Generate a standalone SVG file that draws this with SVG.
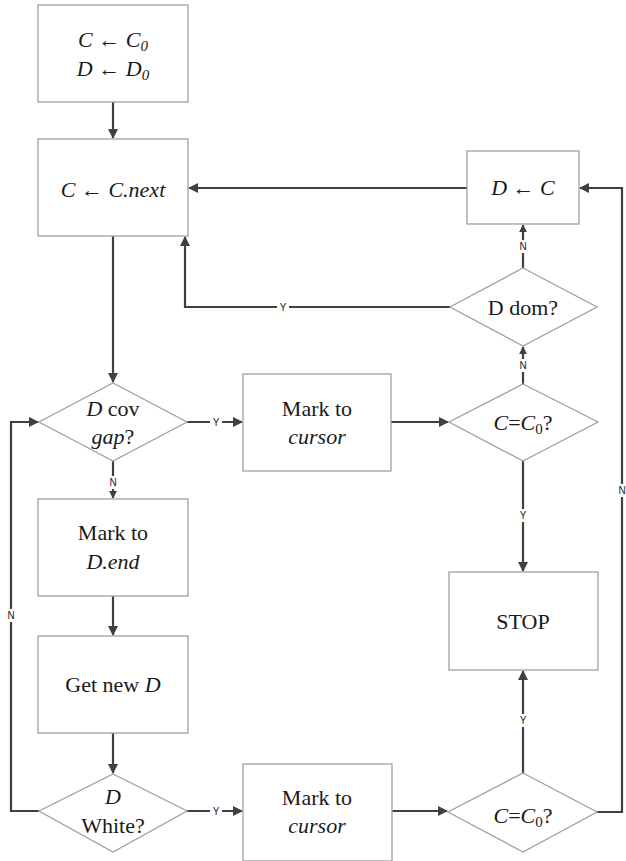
<svg xmlns="http://www.w3.org/2000/svg" width="626" height="861" viewBox="0 0 626 861">
<defs>
<marker id="ah" markerWidth="10" markerHeight="10" viewBox="0 0 10 10" refX="9" refY="5" orient="auto" markerUnits="userSpaceOnUse">
<path d="M0,0 L10,5 L0,10 z" fill="#404040"/>
</marker>
<marker id="ahs" markerWidth="8" markerHeight="8" viewBox="0 0 10 10" refX="9" refY="5" orient="auto" markerUnits="userSpaceOnUse">
<path d="M0,0 L10,5 L0,10 z" fill="#404040"/>
</marker>
<style>
.n{fill:#fff;stroke:#a0a0a0;stroke-width:1.3}
.t{font-family:'Liberation Serif','Times New Roman',Times,serif;font-size:22px;fill:#1a1a1a;text-anchor:middle}
.i{font-style:italic}
.c{fill:none;stroke:#404040;stroke-width:2.2}
.a{marker-end:url(#ah)}
.as{marker-end:url(#ahs)}
.l{font-family:'Liberation Sans',Arial,sans-serif;font-size:10px;fill:#222;text-anchor:middle}
.lb{fill:#fff}
</style>
</defs>
<rect width="626" height="861" fill="#fff"/>
<g id="connectors">
<path class="c a" d="M113,102 V138"/>
<path class="c a" d="M113,236 V382"/>
<path class="c a" d="M467,188 H189"/>
<path class="c a" d="M450,307 H185 V237"/>
<path class="c as" d="M523,268 V225"/>
<path class="c as" d="M523,384 V347"/>
<path class="c a" d="M187,422 H242"/>
<path class="c a" d="M391,422 H448"/>
<path class="c a" d="M523,461 V571"/>
<path class="c as" d="M113,461 V498"/>
<path class="c a" d="M113,596 V635"/>
<path class="c a" d="M113,733 V773"/>
<path class="c a" d="M39,811 H11 V422 H38"/>
<path class="c a" d="M187,811 H242"/>
<path class="c a" d="M392,811 H447"/>
<path class="c a" d="M523,773 V671"/>
<path class="c a" d="M597,812 H622 V188 H580"/>
<rect class="lb" x="277" y="300" width="12" height="14"/><text class="l" x="283" y="311">Y</text>
<rect class="lb" x="517" y="240" width="12" height="13"/><text class="l" x="523" y="250">N</text>
<rect class="lb" x="517" y="359" width="12" height="13"/><text class="l" x="523" y="369">N</text>
<rect class="lb" x="210" y="416" width="12" height="13"/><text class="l" x="216" y="426">Y</text>
<rect class="lb" x="517" y="509" width="12" height="13"/><text class="l" x="523" y="519">Y</text>
<rect class="lb" x="107" y="476" width="12" height="13"/><text class="l" x="113" y="486">N</text>
<rect class="lb" x="5" y="609" width="12" height="13"/><text class="l" x="11" y="619">N</text>
<rect class="lb" x="210" y="805" width="12" height="13"/><text class="l" x="216" y="815">Y</text>
<rect class="lb" x="517" y="714" width="12" height="13"/><text class="l" x="523" y="724">Y</text>
<rect class="lb" x="616" y="484" width="12" height="13"/><text class="l" x="622" y="494">N</text>
</g>
<g id="init">
<rect class="n" x="38" y="5" width="150" height="97"/>
<text class="t i" x="113" y="47">C ← C<tspan font-size="15" dy="4">0</tspan></text>
<text class="t i" x="113" y="76">D ← D<tspan font-size="15" dy="4">0</tspan></text>
</g>
<g id="cnext">
<rect class="n" x="38" y="139" width="150" height="97"/>
<text class="t i" x="113" y="197">C ← C.next</text>
</g>
<g id="dassign">
<rect class="n" x="467" y="151" width="112" height="73"/>
<text class="t i" x="523" y="195">D ← C</text>
</g>
<g id="ddom">
<path class="n" d="M523,268 L597,307 L523,346 L450,307 Z"/>
<text class="t" x="523" y="315">D dom?</text>
</g>
<g id="dcov">
<path class="n" d="M113,383 L187,422 L113,461 L39,422 Z"/>
<text class="t" x="113" y="416"><tspan class="i">D</tspan> cov</text>
<text class="t" x="113" y="444"><tspan class="i">gap</tspan>?</text>
</g>
<g id="markcursor1">
<rect class="n" x="243" y="374" width="148" height="97"/>
<text class="t" x="317" y="416">Mark to</text>
<text class="t i" x="317" y="444">cursor</text>
</g>
<g id="cc0a">
<path class="n" d="M523,384 L598,422 L523,461 L449,422 Z"/>
<text class="t" x="523" y="430"><tspan class="i">C</tspan>=<tspan class="i">C</tspan><tspan font-size="15" dy="4">0</tspan><tspan dy="-4">?</tspan></text>
</g>
<g id="markdend">
<rect class="n" x="38" y="499" width="150" height="97"/>
<text class="t" x="113" y="540">Mark to</text>
<text class="t i" x="113" y="569">D.end</text>
</g>
<g id="stop">
<rect class="n" x="449" y="572" width="149" height="98"/>
<text class="t" x="523" y="629">STOP</text>
</g>
<g id="getnew">
<rect class="n" x="38" y="636" width="150" height="97"/>
<text class="t" x="113" y="692">Get new <tspan class="i">D</tspan></text>
</g>
<g id="dwhite">
<path class="n" d="M113,774 L187,811 L113,852 L39,811 Z"/>
<text class="t i" x="113" y="804">D</text>
<text class="t" x="113" y="833">White?</text>
</g>
<g id="markcursor2">
<rect class="n" x="243" y="764" width="149" height="97"/>
<text class="t" x="317" y="805">Mark to</text>
<text class="t i" x="317" y="833">cursor</text>
</g>
<g id="cc0b">
<path class="n" d="M523,773 L597,812 L523,852 L448,812 Z"/>
<text class="t" x="523" y="823"><tspan class="i">C</tspan>=<tspan class="i">C</tspan><tspan font-size="15" dy="4">0</tspan><tspan dy="-4">?</tspan></text>
</g>
</svg>
